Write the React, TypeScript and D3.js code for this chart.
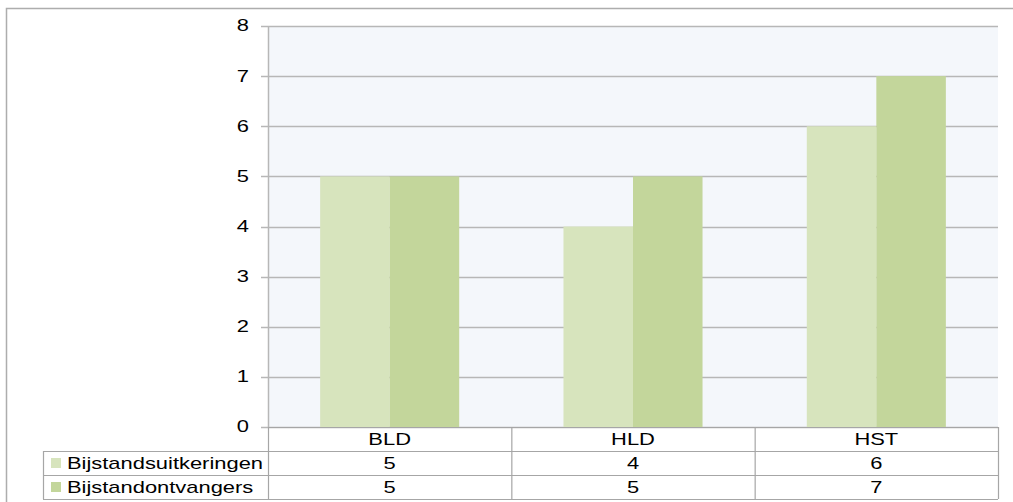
import React from "react";
import * as d3 from "d3";

const categories = ["BLD", "HLD", "HST"];
const seriesNames = ["Bijstandsuitkeringen", "Bijstandontvangers"];
const uitkeringen = [5, 4, 6];
const ontvangers = [5, 5, 7];
const yTicks = [0, 1, 2, 3, 4, 5, 6, 7, 8];
const seriesColors = ["#D7E4BD", "#C3D69B"];

const W = 1013;
const H = 502;
const left = 268;
const right = 998;
const top = 26;
const bottom = 427;
const rowH = 24;
const tableLeft = 43;
const FS = 16;
const SX = 1.37;
const gridColor = "#B7B7B7";
const tableColor = "#A6A6A6";

function SText({ x, y, anchor, children }: { x: number; y: number; anchor: string; children: React.ReactNode }) {
  return (
    <g transform={`translate(${x},${y}) scale(${SX},1)`}>
      <text x={0} y={0} textAnchor={anchor as any} dominantBaseline="central" fontSize={FS} fontFamily="'Liberation Sans', Arial, sans-serif" fill="#000">
        {children}
      </text>
    </g>
  );
}

export default function App() {
  const values = [uitkeringen, ontvangers];
  const y = d3.scaleLinear().domain([0, 8]).range([bottom, top]);
  const x0 = d3.scaleBand<string>().domain(categories).range([left, right]).paddingInner(0).paddingOuter(0);
  const x1 = d3.scaleBand<string>().domain(seriesNames).range([0, x0.bandwidth()]).paddingInner(0).paddingOuter(0.75);

  return (
    <svg width={W} height={H} style={{ position: "absolute", left: 0, top: 0, background: "#fff" }}>
      <rect x={6.5} y={8.5} width={W + 10} height={H + 10} fill="#fff" stroke="#ADADAD" strokeWidth={1.5} />
      <rect x={left} y={top} width={right - left} height={bottom - top} fill="#F4F7FB" />
      {yTicks.map((t) => (
        <g key={t}>
          <line x1={left - 7} x2={right} y1={Math.round(y(t)) + 0.5} y2={Math.round(y(t)) + 0.5} stroke={gridColor} strokeWidth={1.5} />
          <SText x={249} y={y(t)} anchor="end">{t}</SText>
        </g>
      ))}
      {categories.map((c, ci) =>
        seriesNames.map((s, si) => {
          const v = values[si][ci];
          return (
            <rect
              key={c + s}
              x={(x0(c) as number) + (x1(s) as number)}
              y={y(v)}
              width={x1.bandwidth()}
              height={y(0) - y(v)}
              fill={seriesColors[si]}
            />
          );
        })
      )}
      <line x1={left + 0.5} x2={left + 0.5} y1={top} y2={bottom} stroke={gridColor} strokeWidth={1.5} />
      <g stroke={tableColor} strokeWidth={1.2} fill="none">
        <line x1={left} x2={right} y1={bottom + 0.5} y2={bottom + 0.5} />
        <line x1={tableLeft} x2={right} y1={bottom + rowH + 0.5} y2={bottom + rowH + 0.5} />
        <line x1={tableLeft} x2={right} y1={bottom + 2 * rowH + 0.5} y2={bottom + 2 * rowH + 0.5} />
        <line x1={tableLeft} x2={right} y1={bottom + 3 * rowH + 0.5} y2={bottom + 3 * rowH + 0.5} />
        <line x1={tableLeft + 0.5} x2={tableLeft + 0.5} y1={bottom + rowH} y2={bottom + 3 * rowH} />
        {[...categories.map((c) => x0(c) as number), right].map((xx, i) => (
          <line key={i} x1={xx + 0.5} x2={xx + 0.5} y1={bottom} y2={bottom + 3 * rowH} />
        ))}
      </g>
      {categories.map((c) => (
        <SText key={c} x={(x0(c) as number) + x0.bandwidth() / 2} y={bottom + rowH / 2 + 1} anchor="middle">{c}</SText>
      ))}
      {seriesNames.map((s, si) => (
        <g key={s}>
          <rect x={51} y={bottom + rowH * (si + 1) + 7} width={10} height={10} fill={seriesColors[si]} />
          <SText x={67} y={bottom + rowH * (si + 1) + rowH / 2 + 1} anchor="start">{s}</SText>
          {categories.map((c, ci) => (
            <SText key={c} x={(x0(c) as number) + x0.bandwidth() / 2} y={bottom + rowH * (si + 1) + rowH / 2 + 1} anchor="middle">
              {values[si][ci]}
            </SText>
          ))}
        </g>
      ))}
    </svg>
  );
}
